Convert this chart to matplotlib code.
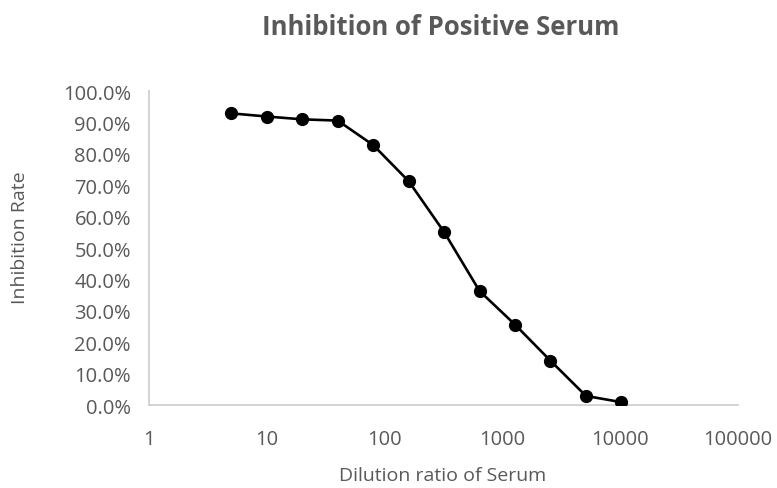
import matplotlib
matplotlib.use("Agg")
import matplotlib.pyplot as plt
from matplotlib.ticker import FuncFormatter, FixedLocator

# dilution series and measured inhibition (%)
dilution = [5, 10, 20, 40, 80, 160, 320, 640, 1280, 2560, 5120, 10240]
inhibition = [92.9, 91.9, 91.0, 90.6, 82.8, 71.3, 55.1, 36.3, 25.6, 14.1, 2.9, 0.9]

x_ticks = [1, 10, 100, 1000, 10000, 100000]
y_ticks = [0, 10, 20, 30, 40, 50, 60, 70, 80, 90, 100]

plt.rcParams["font.family"] = ["Open Sans", "DejaVu Sans"]
grey = "#595959"
axis_grey = "#d0d0d0"

fig = plt.figure(figsize=(7.77, 4.89), dpi=100)
ax = fig.add_axes([0.1918, 0.1697, 0.758, 0.642])

ax.plot(dilution, inhibition, color="black", lw=1.9, marker="o", ms=8.5, zorder=3)

ax.set_xscale("log")
ax.set_xlim(1, 100000)
ax.set_ylim(0, 100)
ax.xaxis.set_major_locator(FixedLocator(x_ticks))
ax.xaxis.set_minor_locator(FixedLocator([]))
ax.xaxis.set_major_formatter(FuncFormatter(lambda v, p: f"{v:g}" if v < 1e5 else "100000"))
ax.yaxis.set_major_locator(FixedLocator(y_ticks))
ax.yaxis.set_major_formatter(FuncFormatter(lambda v, p: f"{v:.1f}%"))

for side in ["top", "right"]:
    ax.spines[side].set_visible(False)
for side in ["left", "bottom"]:
    ax.spines[side].set_color(axis_grey)
    ax.spines[side].set_linewidth(1.3)
ax.tick_params(length=0, labelsize=14.5, colors=grey)
ax.tick_params(axis="x", pad=17)
ax.tick_params(axis="y", pad=13)

# axis titles placed in figure coordinates to match the reference layout
fig.text(0.570, 0.027, "Dilution ratio of Serum", fontsize=14, color=grey,
         ha="center", va="center")
fig.text(0.026, 0.513, "Inhibition Rate", fontsize=14, color=grey,
         ha="center", va="center", rotation=90)
fig.suptitle("Inhibition of Positive Serum", x=0.567, y=0.972, fontsize=18.5,
             fontweight="bold", color=grey)

fig.savefig("out.png", dpi=100)
